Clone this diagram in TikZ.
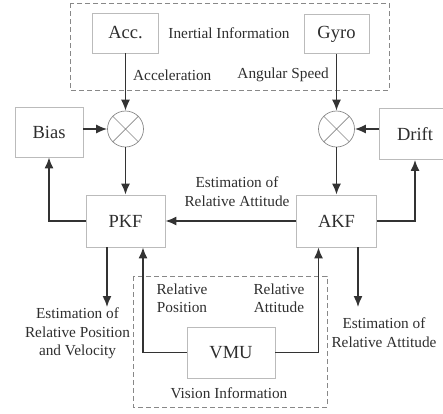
\documentclass[tikz,border=0pt]{standalone}
\usepackage{fontspec}
\setmainfont{Liberation Serif}
\usetikzlibrary{arrows.meta}
\definecolor{boxgray}{HTML}{BBBBBB}
\definecolor{linegray}{HTML}{333333}
\definecolor{txtgray}{HTML}{2E2E2E}
\definecolor{dashgray}{HTML}{888888}
\tikzset{
  blk/.style={draw=boxgray, line width=0.8pt, fill=white, text=txtgray,
    font=\fontsize{18.5}{20}\selectfont, inner sep=0pt},
  lbl/.style={text=txtgray, font=\fontsize{15.3}{18.5}\selectfont, align=center, inner sep=0pt},
  conn/.style={draw=linegray, line width=1.5pt},
  arr/.style={conn, -{Latex[length=11pt,width=9pt]}},
  mixer/.style={circle, draw=dashgray, line width=0.7pt, minimum size=36pt, inner sep=0pt},
  grp/.style={draw=dashgray, dashed, dash pattern=on 5pt off 3pt, line width=0.8pt}
}
\begin{document}
\begin{tikzpicture}[x=1pt,y=-1pt]
\useasboundingbox (0,0) rectangle (443,413);
% group frames
\draw[grp] (70,3) rectangle (389,90);
\draw[grp] (133,276) rectangle (327,407);
% blocks
\node[blk, minimum width=66pt, minimum height=40pt] (acc) at (125.5,33) {Acc.};
\node[blk, minimum width=65pt, minimum height=39pt] (gyro) at (336.5,34) {Gyro};
\node[blk, minimum width=68pt, minimum height=50pt] (bias) at (49,132) {Bias};
\node[blk, minimum width=72pt, minimum height=51pt] (drift) at (415,134) {Drift};
\node[blk, minimum width=79pt, minimum height=52pt] (pkf) at (125.5,221) {PKF};
\node[blk, minimum width=80pt, minimum height=52pt] (akf) at (336.5,221) {AKF};
\node[blk, minimum width=88pt, minimum height=51pt] (vmu) at (231,352.5) {VMU};
% mixers
\node[mixer] (mixL) at (125.5,129) {};
\node[mixer] (mixR) at (336.5,129) {};
\draw[dashgray, line width=0.7pt] (mixL.north west) -- (mixL.south east) (mixL.north east) -- (mixL.south west);
\draw[dashgray, line width=0.7pt] (mixR.north west) -- (mixR.south east) (mixR.north east) -- (mixR.south west);
% labels
\node[lbl] (inert) at (229,33) {Inertial Information};
\node[lbl, anchor=west] (accl) at (133,75) {Acceleration};
\node[lbl, anchor=east] (angl) at (329,75) {Angular Speed};
\node[lbl] (estatt) at (237,191.5) {Estimation of\\Relative Attitude};
\node[lbl] (relpos) at (182,298.5) {Relative\\Position};
\node[lbl] (relatt) at (279,298.5) {Relative\\Attitude};
\node[lbl] (vis) at (229,393) {Vision Information};
\node[lbl] (estpv) at (77.5,333.5) {Estimation of\\Relative Position\\and Velocity};
\node[lbl] (estatt2) at (384,332.5) {Estimation of\\Relative Attitude};
% free ends
\coordinate (outP) at (107,307);
\coordinate (outA) at (358,307);
% connectors
\draw[arr] (acc.south) -- (mixL.north);
\draw[arr] (gyro.south) -- (mixR.north);
\draw[arr] (bias.east |- mixL.west) -- (mixL.west);
\draw[arr] (drift.west |- mixR.east) -- (mixR.east);
\draw[arr] (mixL.south) -- (pkf.north);
\draw[arr] (mixR.south) -- (akf.north);
\draw[arr] (akf.west) -- (pkf.east);
\draw[arr] (pkf.west) -| (bias.south);
\draw[arr] (akf.east) -| (drift.south);
\draw[arr] (pkf.south -| outP) -- (outP);
\draw[arr] (akf.south -| outA) -- (outA);
\draw[arr] (vmu.west) -| ([xshift=17.5pt]pkf.south);
\draw[arr] (vmu.east) -| ([xshift=-18pt]akf.south);
\end{tikzpicture}
\end{document}
